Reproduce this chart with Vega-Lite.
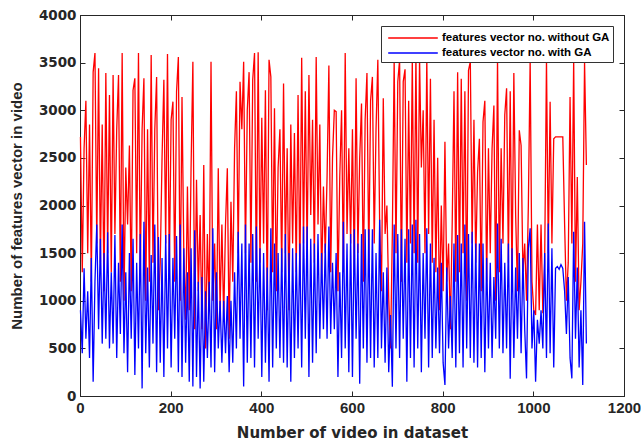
{
  "$schema": "https://vega.github.io/schema/vega-lite/v6.json",
  "width": 544,
  "height": 381,
  "autosize": {"type": "none"},
  "padding": {"left": 80, "top": 15, "right": 17, "bottom": 47},
  "background": "white",
  "config": {
    "font": "Liberation Sans",
    "view": {"stroke": "#262626", "strokeWidth": 1},
    "axis": {
      "grid": false,
      "domainColor": "#262626",
      "tickColor": "#262626",
      "tickSize": -5,
      "format": "d",
      "labelFlush": false,
      "labelOverlap": false,
      "labelFont": "DejaVu Sans",
      "labelFontWeight": "bold",
      "labelFontSize": 13.5,
      "labelColor": "#262626",
      "titleFont": "DejaVu Sans",
      "titleFontWeight": "bold",
      "titleFontSize": 15,
      "titleColor": "#262626"
    }
  },
  "data": {"values": [
{"x":1,"r":2720,"b":900},{"x":5,"r":1300,"b":450},{"x":9,"r":2600,"b":1340},{"x":13,"r":3100,"b":600},{"x":17,"r":1500,"b":1100},{"x":21,"r":2850,"b":400},{"x":25,"r":1200,"b":1450},{"x":29,"r":3400,"b":150},{"x":33,"r":3600,"b":1200},{"x":37,"r":1600,"b":1800},
{"x":41,"r":3440,"b":700},{"x":45,"r":1400,"b":1650},{"x":49,"r":2850,"b":550},{"x":53,"r":1100,"b":1500},{"x":57,"r":3390,"b":600},{"x":61,"r":1500,"b":1720},{"x":65,"r":3160,"b":500},{"x":69,"r":1300,"b":1300},{"x":73,"r":3370,"b":550},{"x":77,"r":1700,"b":1690},
{"x":81,"r":2800,"b":400},{"x":85,"r":3370,"b":1400},{"x":89,"r":1200,"b":650},{"x":93,"r":3600,"b":1800},{"x":97,"r":1000,"b":450},{"x":101,"r":2400,"b":1300},{"x":105,"r":1800,"b":250},{"x":109,"r":2630,"b":1500},{"x":113,"r":1100,"b":600},{"x":117,"r":3210,"b":1650},
{"x":121,"r":3335,"b":220},{"x":125,"r":1500,"b":1400},{"x":129,"r":3600,"b":500},{"x":133,"r":1300,"b":1700},{"x":137,"r":2800,"b":80},{"x":141,"r":3335,"b":1830},{"x":145,"r":1000,"b":450},{"x":149,"r":2800,"b":1350},{"x":153,"r":1200,"b":300},{"x":157,"r":3580,"b":1480},
{"x":161,"r":1400,"b":550},{"x":165,"r":2800,"b":1800},{"x":169,"r":3350,"b":250},{"x":173,"r":900,"b":1670},{"x":177,"r":1400,"b":350},{"x":181,"r":2500,"b":1450},{"x":185,"r":3320,"b":200},{"x":189,"r":1600,"b":1690},{"x":193,"r":3590,"b":500},{"x":197,"r":1300,"b":1700},
{"x":201,"r":2900,"b":300},{"x":205,"r":3090,"b":1450},{"x":209,"r":1200,"b":600},{"x":213,"r":3200,"b":1680},{"x":217,"r":3560,"b":250},{"x":221,"r":1000,"b":1800},{"x":225,"r":3140,"b":200},{"x":229,"r":1500,"b":1550},{"x":233,"r":800,"b":350},{"x":237,"r":2200,"b":1300},
{"x":241,"r":900,"b":150},{"x":245,"r":2400,"b":1550},{"x":249,"r":3510,"b":100},{"x":253,"r":700,"b":1740},{"x":257,"r":2270,"b":200},{"x":261,"r":1100,"b":1200},{"x":265,"r":1900,"b":80},{"x":269,"r":700,"b":1250},{"x":273,"r":2425,"b":150},{"x":277,"r":500,"b":1100},
{"x":281,"r":1700,"b":400},{"x":285,"r":900,"b":1200},{"x":289,"r":3510,"b":300},{"x":293,"r":1000,"b":1760},{"x":297,"r":1600,"b":250},{"x":301,"r":700,"b":1300},{"x":305,"r":2390,"b":500},{"x":309,"r":900,"b":1000},{"x":313,"r":1800,"b":350},{"x":317,"r":800,"b":1000},
{"x":321,"r":1800,"b":450},{"x":325,"r":2390,"b":1050},{"x":329,"r":600,"b":250},{"x":333,"r":2040,"b":1000},{"x":337,"r":1200,"b":350},{"x":341,"r":2600,"b":1300},{"x":345,"r":3200,"b":500},{"x":349,"r":1500,"b":1725},{"x":353,"r":3300,"b":600},{"x":357,"r":2800,"b":1600},
{"x":361,"r":3510,"b":100},{"x":365,"r":1500,"b":1800},{"x":369,"r":3000,"b":350},{"x":373,"r":3400,"b":1600},{"x":377,"r":1400,"b":400},{"x":381,"r":3320,"b":1700},{"x":385,"r":3600,"b":300},{"x":389,"r":1200,"b":1780},{"x":393,"r":3610,"b":600},{"x":397,"r":1400,"b":1550},
{"x":401,"r":2920,"b":200},{"x":405,"r":1600,"b":1500},{"x":409,"r":3210,"b":350},{"x":413,"r":900,"b":1350},{"x":417,"r":3530,"b":150},{"x":421,"r":3350,"b":1760},{"x":425,"r":1300,"b":300},{"x":429,"r":3020,"b":1600},{"x":433,"r":1100,"b":500},{"x":437,"r":2400,"b":1500},
{"x":441,"r":2800,"b":400},{"x":445,"r":1300,"b":1550},{"x":449,"r":3280,"b":350},{"x":453,"r":1500,"b":1700},{"x":457,"r":2600,"b":300},{"x":461,"r":900,"b":1500},{"x":465,"r":2850,"b":150},{"x":469,"r":1600,"b":1550},{"x":473,"r":2760,"b":400},{"x":477,"r":1300,"b":1500},
{"x":481,"r":3160,"b":500},{"x":485,"r":1200,"b":1600},{"x":489,"r":3550,"b":300},{"x":493,"r":1600,"b":1780},{"x":497,"r":3200,"b":600},{"x":501,"r":1500,"b":1780},{"x":505,"r":3370,"b":200},{"x":509,"r":1900,"b":1650},{"x":513,"r":2900,"b":350},{"x":517,"r":1400,"b":1600},
{"x":521,"r":3560,"b":450},{"x":525,"r":1800,"b":1700},{"x":529,"r":2850,"b":600},{"x":533,"r":1200,"b":1500},{"x":537,"r":2200,"b":700},{"x":541,"r":1500,"b":1600},{"x":545,"r":2300,"b":600},{"x":549,"r":3470,"b":1780},{"x":553,"r":1300,"b":650},{"x":557,"r":2500,"b":1400},
{"x":561,"r":3000,"b":700},{"x":565,"r":2985,"b":1500},{"x":569,"r":1100,"b":200},{"x":573,"r":2300,"b":1300},{"x":577,"r":3000,"b":400},{"x":581,"r":1300,"b":1830},{"x":585,"r":3600,"b":500},{"x":589,"r":1700,"b":1600},{"x":593,"r":2600,"b":250},{"x":597,"r":1600,"b":1700},
{"x":601,"r":2800,"b":200},{"x":605,"r":1300,"b":1750},{"x":609,"r":3335,"b":600},{"x":613,"r":1500,"b":1600},{"x":617,"r":2500,"b":130},{"x":621,"r":3070,"b":1700},{"x":625,"r":1200,"b":500},{"x":629,"r":2900,"b":1750},{"x":633,"r":3390,"b":350},{"x":637,"r":1400,"b":1750},
{"x":641,"r":3100,"b":400},{"x":645,"r":3350,"b":1750},{"x":649,"r":1600,"b":300},{"x":653,"r":2800,"b":1500},{"x":657,"r":3530,"b":400},{"x":661,"r":1800,"b":1850},{"x":665,"r":1100,"b":500},{"x":669,"r":3125,"b":1300},{"x":673,"r":1700,"b":350},{"x":677,"r":2000,"b":1350},
{"x":681,"r":1025,"b":250},{"x":685,"r":500,"b":850},{"x":689,"r":1700,"b":98},{"x":693,"r":3530,"b":1800},{"x":697,"r":1500,"b":500},{"x":701,"r":3300,"b":1700},{"x":705,"r":3530,"b":400},{"x":709,"r":1200,"b":1750},{"x":713,"r":3300,"b":600},{"x":717,"r":3430,"b":1650},
{"x":721,"r":1400,"b":150},{"x":725,"r":3100,"b":1750},{"x":729,"r":1600,"b":400},{"x":733,"r":3530,"b":1800},{"x":737,"r":1500,"b":300},{"x":741,"r":3580,"b":1850},{"x":745,"r":1400,"b":500},{"x":749,"r":3545,"b":1700},{"x":753,"r":2400,"b":250},{"x":757,"r":3000,"b":1500},
{"x":761,"r":1500,"b":600},{"x":765,"r":3550,"b":1760},{"x":769,"r":1700,"b":300},{"x":773,"r":3330,"b":1600},{"x":777,"r":1400,"b":400},{"x":781,"r":2900,"b":1450},{"x":785,"r":1300,"b":500},{"x":789,"r":2500,"b":1350},{"x":793,"r":900,"b":450},{"x":797,"r":2000,"b":1400},
{"x":801,"r":1100,"b":350},{"x":805,"r":2670,"b":115},{"x":809,"r":1200,"b":1350},{"x":813,"r":1600,"b":500},{"x":817,"r":700,"b":1050},{"x":821,"r":1800,"b":400},{"x":825,"r":3200,"b":1600},{"x":829,"r":1200,"b":300},{"x":833,"r":3400,"b":1690},{"x":837,"r":1300,"b":450},
{"x":841,"r":3330,"b":1600},{"x":845,"r":1500,"b":300},{"x":849,"r":3200,"b":1800},{"x":853,"r":1000,"b":500},{"x":857,"r":3420,"b":1700},{"x":861,"r":3510,"b":400},{"x":865,"r":1600,"b":1725},{"x":869,"r":2900,"b":350},{"x":873,"r":1400,"b":1600},{"x":877,"r":2350,"b":300},
{"x":881,"r":2700,"b":1600},{"x":885,"r":1100,"b":400},{"x":889,"r":2880,"b":1600},{"x":893,"r":3100,"b":250},{"x":897,"r":1200,"b":1450},{"x":901,"r":2600,"b":500},{"x":905,"r":1500,"b":1400},{"x":909,"r":2600,"b":400},{"x":913,"r":3050,"b":1250},{"x":917,"r":1000,"b":600},
{"x":921,"r":3545,"b":1810},{"x":925,"r":1300,"b":500},{"x":929,"r":2600,"b":1650},{"x":933,"r":1600,"b":450},{"x":937,"r":2950,"b":1400},{"x":941,"r":3230,"b":500},{"x":945,"r":1400,"b":1600},{"x":949,"r":3200,"b":180},{"x":953,"r":1200,"b":1550},{"x":957,"r":3390,"b":400},
{"x":961,"r":1900,"b":1350},{"x":965,"r":1100,"b":600},{"x":969,"r":2790,"b":1500},{"x":973,"r":2630,"b":450},{"x":977,"r":1300,"b":1450},{"x":981,"r":1600,"b":700},{"x":985,"r":1000,"b":185},{"x":989,"r":2000,"b":1550},{"x":993,"r":3530,"b":1760},{"x":997,"r":1200,"b":500},
{"x":1001,"r":900,"b":900},{"x":1005,"r":850,"b":150},{"x":1009,"r":1800,"b":800},{"x":1013,"r":900,"b":550},{"x":1017,"r":1800,"b":900},{"x":1021,"r":870,"b":500},{"x":1025,"r":1400,"b":1500},{"x":1029,"r":3530,"b":400},{"x":1033,"r":1500,"b":1810},{"x":1037,"r":3090,"b":450},
{"x":1041,"r":1600,"b":1550},{"x":1045,"r":2700,"b":300},{"x":1049,"r":2720,"b":1340},{"x":1053,"r":2720,"b":1360},{"x":1057,"r":2720,"b":1330},{"x":1061,"r":2720,"b":1380},{"x":1065,"r":2720,"b":1340},{"x":1069,"r":1800,"b":1100},{"x":1073,"r":1000,"b":650},{"x":1077,"r":1400,"b":1250},
{"x":1081,"r":3140,"b":400},{"x":1085,"r":1600,"b":185},{"x":1089,"r":3530,"b":1725},{"x":1093,"r":1200,"b":600},{"x":1097,"r":2300,"b":1350},{"x":1101,"r":900,"b":300},{"x":1105,"r":1200,"b":900},{"x":1109,"r":1600,"b":115},{"x":1113,"r":3510,"b":1830},{"x":1117,"r":2425,"b":550}
  ]},
  "layer": [
    {
      "mark": {"type": "line", "strokeWidth": 1.3},
      "encoding": {
        "x": {"field": "x", "type": "quantitative", "scale": {"domain": [0, 1200], "nice": false}, "axis": {"values": [0,200,400,600,800,1000,1200], "title": "Number of video in dataset", "titlePadding": 10, "labelPadding": 9, "labelFont": "Liberation Sans", "labelFontSize": 15}},
        "y": {"field": "r", "type": "quantitative", "scale": {"domain": [0, 4000], "nice": false}, "axis": {"values": [0,500,1000,1500,2000,2500,3000,3500,4000], "title": "Number of features vector in video", "titleFont": "Liberation Sans", "titleFontSize": 15, "titlePadding": 14, "labelPadding": 9}},
        "color": {"datum": "features vector no. without GA", "type": "nominal",
          "scale": {"domain": ["features vector no. without GA", "features vector no. with GA"], "range": ["#FF0000", "#0000FF"]},
          "legend": {"title": null, "orient": "top-right", "offset": 11, "fillColor": "white", "strokeColor": "#333333", "padding": 3, "labelFont": "Liberation Sans", "labelFontWeight": "bold", "labelFontSize": 11.5, "labelColor": "black", "labelLimit": 400, "symbolType": "M-3.1,0H3.1", "symbolSize": 256, "symbolOffset": 20, "labelOffset": 20, "symbolStrokeWidth": 1.5, "rowPadding": -1}}
      }
    },
    {
      "mark": {"type": "line", "strokeWidth": 1.3},
      "encoding": {
        "x": {"field": "x", "type": "quantitative", "axis": null},
        "y": {"field": "b", "type": "quantitative", "axis": null},
        "color": {"datum": "features vector no. with GA", "type": "nominal"}
      }
    },
    {
      "mark": {"type": "point", "opacity": 0},
      "encoding": {
        "x": {"field": "x", "type": "quantitative", "axis": {"orient": "top", "labels": false, "title": null, "values": [0,200,400,600,800,1000,1200]}},
        "y": {"field": "r", "type": "quantitative", "axis": {"orient": "right", "labels": false, "title": null, "values": [0,500,1000,1500,2000,2500,3000,3500,4000]}}
      }
    }
  ],
  "resolve": {"axis": {"x": "independent", "y": "independent"}}
}
